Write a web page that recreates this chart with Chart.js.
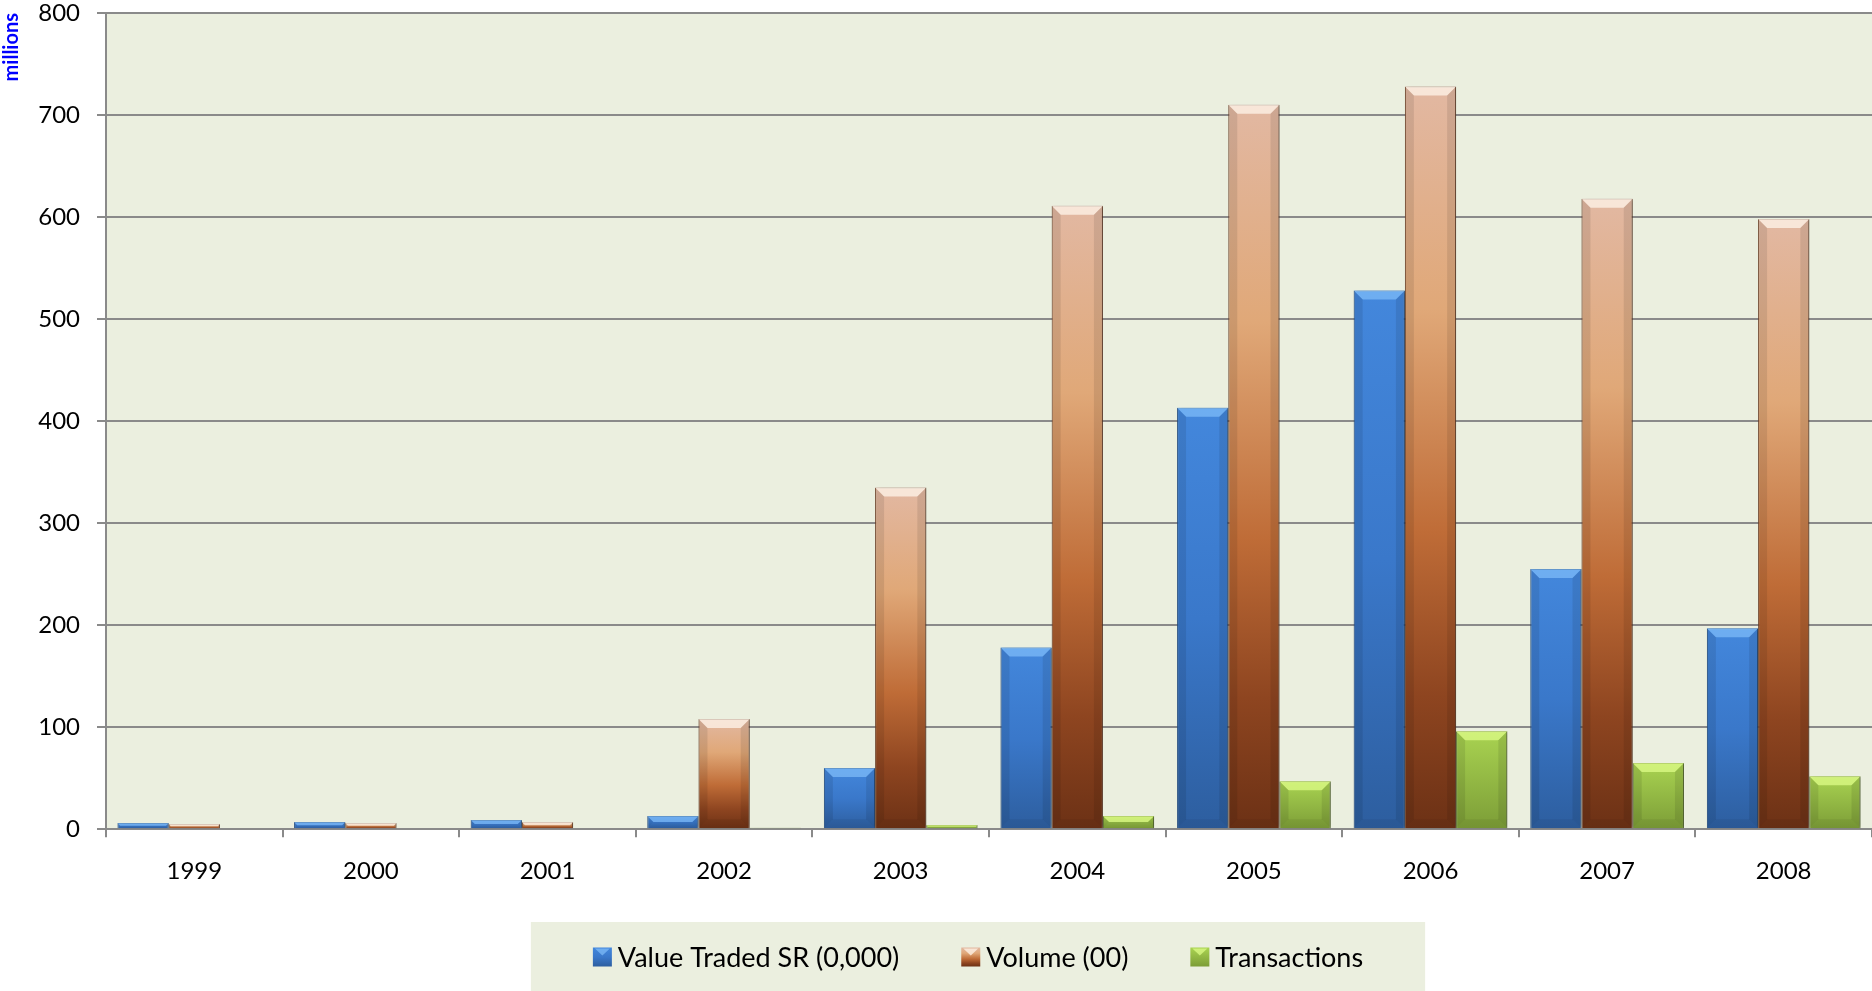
<!DOCTYPE html>
<html>
<head>
<meta charset="utf-8">
<script src="https://cdn.jsdelivr.net/npm/chart.js@4.4.1/dist/chart.umd.min.js"></script>
<style>
    html, body { margin: 0; padding: 0; background: #fff; }
    #wrap { position: relative; width: 1872px; height: 991px; }
</style>
</head>
<body>
<div id="wrap"><canvas id="tradeChart"></canvas></div>
<script>
// values, in millions
const years = ["1999", "2000", "2001", "2002", "2003", "2004", "2005", "2006", "2007", "2008"];
const valueTraded = [6, 7, 9, 13, 60, 178, 413, 528, 255, 197];
const volume = [5, 6, 7, 108, 335, 611, 710, 728, 618, 598];
const transactions = [0.5, 0.7, 1, 1.5, 4, 13, 47, 96, 65, 52];
const seriesNames = ["Value Traded SR (0,000)", "Volume (00)", "Transactions"];

const FONT = "Lato, 'Open Sans', sans-serif";
const GRID = "#8a8a8a";
const PLOT_BG = "#ebefdf";

const blueStops = [[0, "#4387dc"], [0.5, "#3a78ca"], [1, "#2d5e9f"]];
const orangeStops = [[0, "#e2b8a2"], [0.3, "#e0a878"], [0.6, "#bf6c37"], [0.82, "#8e4520"], [1, "#6c3115"]];
const greenStops = [[0, "#a9d351"], [1, "#7c9d37"]];

function barGradient(stops) {
    return (c) => {
        const chart = c.chart;
        const y = chart.scales.y;
        if (!y || !chart.chartArea || c.raw == null) return stops[0][1];
        const top = y.getPixelForValue(c.raw);
        const base = y.getPixelForValue(0);
        if (!isFinite(top) || base - top < 1) return stops[stops.length - 1][1];
        const g = chart.ctx.createLinearGradient(0, top, 0, base);
        stops.forEach(s => g.addColorStop(s[0], s[1]));
        return g;
    };
}

/* ==========================
   PLUGINS
========================== */
const plotBackground = {
    id: "plotBackground",
    beforeDraw(chart) {
        const { ctx, chartArea: a } = chart;
        ctx.save();
        ctx.fillStyle = PLOT_BG;
        ctx.fillRect(a.left, a.top, a.right - a.left, a.bottom - a.top);
        ctx.restore();
    }
};

const barShadow = {
    id: "barShadow",
    beforeDatasetDraw(chart) {
        const ctx = chart.ctx;
        ctx.save();
        ctx.shadowColor = "rgba(0,0,0,0.28)";
        ctx.shadowBlur = 4;
        ctx.shadowOffsetX = 3;
        ctx.shadowOffsetY = 0;
    },
    afterDatasetDraw(chart) {
        chart.ctx.restore();
    }
};

const bevelTop = ["rgba(140,200,255,0.6)", "rgba(255,245,235,0.75)", "rgba(225,255,140,0.7)"];

const barBevel = {
    id: "barBevel",
    afterDatasetsDraw(chart) {
        const ctx = chart.ctx;
        chart.data.datasets.forEach((ds, i) => {
            chart.getDatasetMeta(i).data.forEach(bar => {
                const { x, y, base, width } = bar.getProps(["x", "y", "base", "width"], true);
                const h = base - y;
                if (h < 1) return;
                const l = x - width / 2, r = x + width / 2;
                const b = Math.min(9, h / 2);
                ctx.save();
                ctx.fillStyle = bevelTop[i];
                ctx.beginPath();
                ctx.moveTo(l, y); ctx.lineTo(r, y); ctx.lineTo(r - b, y + b); ctx.lineTo(l + b, y + b);
                ctx.closePath();
                ctx.fill();
                ctx.fillStyle = "rgba(0,0,0,0.09)";
                ctx.beginPath();
                ctx.moveTo(l, y); ctx.lineTo(l + b, y + b); ctx.lineTo(l + b, base - b); ctx.lineTo(l, base);
                ctx.closePath();
                ctx.fill();
                ctx.beginPath();
                ctx.moveTo(r, y); ctx.lineTo(r - b, y + b); ctx.lineTo(r - b, base - b); ctx.lineTo(r, base);
                ctx.closePath();
                ctx.fill();
                ctx.fillStyle = "rgba(0,0,0,0.06)";
                ctx.beginPath();
                ctx.moveTo(l, base); ctx.lineTo(l + b, base - b); ctx.lineTo(r - b, base - b); ctx.lineTo(r, base);
                ctx.closePath();
                ctx.fill();
                ctx.restore();
            });
        });
    }
};

// legend drawn as a shaded box under the axis, like the original
const legendBox = {
    id: "legendBox",
    afterDraw(chart) {
        const ctx = chart.ctx;
        const stops = [blueStops, orangeStops, greenStops];
        ctx.save();
        ctx.font = "27px " + FONT;
        const marker = 19, gapText = 6, gapItem = 62, pad = 62;
        const widths = seriesNames.map(n => ctx.measureText(n).width);
        const total = widths.reduce((a, w) => a + marker + gapText + w, 0) + gapItem * (seriesNames.length - 1);
        const cx = 978, cy = 957;
        const boxLeft = cx - total / 2 - pad;
        ctx.fillStyle = PLOT_BG;
        ctx.fillRect(boxLeft, 922, total + pad * 2, 69);

        let x = cx - total / 2;
        seriesNames.forEach((name, i) => {
            const top = cy - marker / 2;
            const g = ctx.createLinearGradient(0, top, 0, top + marker);
            stops[i].forEach(s => g.addColorStop(s[0], s[1]));
            ctx.fillStyle = g;
            ctx.fillRect(x, top, marker, marker);
            ctx.fillStyle = bevelTop[i];
            ctx.beginPath();
            ctx.moveTo(x + 2, top + 1); ctx.lineTo(x + marker - 2, top + 1); ctx.lineTo(x + marker / 2, top + 8);
            ctx.closePath();
            ctx.fill();
            ctx.fillStyle = "#000";
            ctx.textBaseline = "middle";
            ctx.textAlign = "left";
            ctx.fillText(name, x + marker + gapText, cy + 1);
            x += marker + gapText + widths[i] + gapItem;
        });
        ctx.restore();
    }
};

/* ==========================
   CHART
========================== */
document.addEventListener("DOMContentLoaded", () => {
    const chartEl = document.getElementById("tradeChart");

    new Chart(chartEl.getContext("2d"), {
        type: "bar",
        data: {
            labels: years,
            datasets: [
                {
                    label: seriesNames[0],
                    data: valueTraded,
                    backgroundColor: barGradient(blueStops),
                    borderColor: "#2a5690",
                    borderWidth: 1
                },
                {
                    label: seriesNames[1],
                    data: volume,
                    backgroundColor: barGradient(orangeStops),
                    borderColor: "#7a4a30",
                    borderWidth: 1
                },
                {
                    label: seriesNames[2],
                    data: transactions,
                    backgroundColor: barGradient(greenStops),
                    borderColor: "#5f7a2a",
                    borderWidth: 1
                }
            ]
        },
        options: {
            responsive: true,
            maintainAspectRatio: false,
            animation: false,
            datasets: { bar: { categoryPercentage: 0.87, barPercentage: 1.0, minBarLength: 1 } },
            layout: { padding: { top: 0, right: 0, left: 0, bottom: 85 } },
            plugins: {
                legend: { display: false },
                tooltip: { enabled: false }
            },
            scales: {
                x: {
                    grid: {
                        offset: true,
                        drawOnChartArea: false,
                        drawTicks: true,
                        tickLength: 8,
                        color: GRID,
                        lineWidth: 2
                    },
                    border: { color: GRID, width: 2 },
                    ticks: {
                        color: "#000",
                        padding: 20,
                        font: { family: FONT, size: 24 }
                    }
                },
                y: {
                    min: 0,
                    max: 800,
                    ticks: {
                        stepSize: 100,
                        color: "#000",
                        padding: 17,
                        font: { family: FONT, size: 24 }
                    },
                    grid: {
                        color: GRID,
                        lineWidth: 2,
                        tickLength: 9
                    },
                    border: { color: GRID, width: 2 },
                    title: {
                        display: true,
                        text: "millions",
                        align: "end",
                        color: "#0000ff",
                        padding: { top: 0, bottom: 0 },
                        font: { family: FONT, size: 20, weight: "bold" }
                    },
                    afterFit(scale) {
                        scale.width = 106;
                        scale.paddingTop = 13;
                        scale.paddingBottom = 13;
                    }
                }
            }
        },
        plugins: [plotBackground, barShadow, barBevel, legendBox]
    });
});
</script>
</body>
</html>
